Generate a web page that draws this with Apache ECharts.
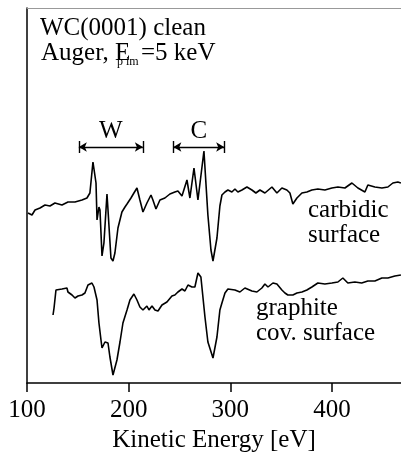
<!DOCTYPE html>
<html>
<head>
<meta charset="utf-8">
<script src="https://cdn.jsdelivr.net/npm/echarts@6/dist/echarts.min.js"></script>
<style>
  html, body { margin: 0; padding: 0; background: #fff; }
  #chart { width: 401px; height: 453px; }
</style>
</head>
<body>
<div id="chart"></div>
<script>
// kinetic energy (eV) and dN/dE (arb. units)
var carbidicE = [101.0, 104.9, 107.9, 112.8, 117.7, 122.6, 127.5, 134.4, 140.3, 147.2, 154.1, 159.0, 160.0, 161.9, 164.9, 167.9, 168.9, 170.8, 171.8, 173.8, 175.7, 178.7, 179.7, 182.6, 184.6, 186.5, 189.5, 193.4, 196.4, 198.4, 202.3, 205.2, 208.2, 211.1, 214.1, 218.0, 222.0, 223.9, 226.9, 230.8, 235.7, 240.6, 245.5, 248.5, 252.5, 257.4, 260.3, 264.3, 268.2, 274.1, 278.0, 281.0, 283.0, 286.9, 289.8, 291.8, 294.8, 297.7, 301.6, 304.6, 307.5, 311.5, 316.4, 321.3, 325.2, 329.2, 334.1, 341.0, 345.9, 350.8, 355.7, 358.7, 361.6, 365.6, 370.5, 375.4, 380.3, 386.2, 393.1, 400.0, 405.9, 412.8, 419.7, 425.6, 432.5, 435.4, 442.3, 449.2, 455.1, 460.0, 464.9, 467.9]
var carbidicY = [170, 168, 173, 175, 178, 177, 180, 178, 181, 181, 183, 185, 183, 190, 221, 200, 163, 176, 173, 127, 140, 189, 173, 125, 122, 130, 155, 171, 176, 179, 185, 190, 195, 183, 171, 180, 188, 183, 174, 183, 185, 189, 191, 192, 187, 203, 185, 215, 183, 232, 168, 133, 122, 145, 177, 188, 191, 193, 191, 194, 191, 193, 196, 193, 190, 193, 190, 196, 190, 195, 193, 190, 179, 185, 190, 191, 193, 194, 193, 195, 196, 195, 200, 195, 191, 198, 196, 195, 196, 200, 201, 200]

var graphiteE = [125.6, 126.6, 128.5, 129.5, 134.4, 139.3, 140.3, 144.3, 147.2, 150.2, 154.1, 157.0, 160.0, 163.9, 165.9, 168.9, 170.8, 172.8, 173.8, 176.7, 179.7, 181.6, 184.6, 188.5, 191.5, 194.4, 198.4, 201.3, 205.2, 208.2, 211.1, 214.1, 218.0, 220.0, 223.0, 225.9, 228.9, 232.8, 237.7, 242.6, 245.5, 248.5, 252.5, 255.4, 258.4, 262.3, 265.2, 268.2, 271.1, 275.1, 278.0, 283.0, 286.9, 289.8, 291.8, 294.8, 297.7, 304.6, 309.5, 314.4, 321.3, 326.2, 331.1, 334.1, 337.1, 342.0, 345.9, 350.8, 353.8, 356.7, 361.6, 365.6, 370.5, 375.4, 380.3, 386.2, 393.1, 400.0, 405.9, 410.8, 415.7, 422.6, 429.3, 435.4, 442.3, 449.2, 455.1, 462.0, 467.9]
var graphiteY = [68, 75, 93, 95, 94, 95, 91, 88, 85, 87, 88, 90, 98, 100, 96, 83, 60, 43, 35, 41, 40, 26, 8, 23, 41, 60, 73, 83, 89, 83, 76, 73, 77, 73, 77, 73, 72, 78, 81, 87, 88, 91, 94, 92, 98, 96, 96, 110, 106, 66, 41, 25, 46, 73, 80, 90, 94, 93, 91, 95, 92, 91, 95, 99, 96, 100, 99, 93, 90, 88, 88, 90, 91, 93, 96, 100, 99, 100, 101, 105, 100, 101, 100, 102, 102, 105, 105, 107, 108]

var xTicks = [100, 200, 300, 400]

// energy ranges of the W and C transitions
var wRange = [151, 214]
var cRange = [244, 294]
var bracketY = 236
var capHalf = 6

var serif = 'Liberation Serif'

function pairs(xs, ys) {
  return xs.map(function (x, i) { return [x, ys[i]] })
}

function bracket(range, name) {
  return [
    [{ coord: [range[0], bracketY], symbol: 'arrow', name: name,
       label: { show: true, formatter: name, position: 'insideMiddleTop', distance: 3,
                color: '#000', fontFamily: serif, fontSize: 25 } },
     { coord: [range[1], bracketY], symbol: 'arrow' }],
    [{ coord: [range[0], bracketY - capHalf], symbol: 'none', label: { show: false } },
     { coord: [range[0], bracketY + capHalf], symbol: 'none' }],
    [{ coord: [range[1], bracketY - capHalf], symbol: 'none', label: { show: false } },
     { coord: [range[1], bracketY + capHalf], symbol: 'none' }],
  ]
}

var chart = echarts.init(document.getElementById('chart'))

var option = {
  animation: false,
  backgroundColor: '#fff',
  grid: { left: 27, right: 0, top: 8, bottom: 70, outerBoundsMode: 'none' },
  xAxis: [
    {
      type: 'value',
      min: 100,
      max: 468,
      interval: 100,
      name: 'Kinetic Energy [eV]',
      nameLocation: 'middle',
      nameGap: 45,
      nameTextStyle: { color: '#000', fontFamily: serif, fontSize: 25 },
      axisLine: { lineStyle: { color: '#000', width: 1.5 } },
      axisTick: { inside: false, length: 9, customValues: xTicks, lineStyle: { color: '#000', width: 1.5 } },
      axisLabel: { customValues: xTicks, margin: 15, color: '#000', fontFamily: serif, fontSize: 25 },
      splitLine: { show: false },
    },
    {
      type: 'value',
      position: 'top',
      min: 100,
      max: 468,
      axisLine: { lineStyle: { color: '#999', width: 1 } },
      axisTick: { show: false },
      axisLabel: { show: false },
      splitLine: { show: false },
    },
  ],
  yAxis: {
    type: 'value',
    min: 0,
    max: 375,
    axisLine: { show: true, lineStyle: { color: '#000', width: 1.5 } },
    axisTick: { show: false },
    axisLabel: { show: false },
    splitLine: { show: false },
  },
  series: [
    {
      name: 'carbidic surface',
      type: 'line',
      showSymbol: false,
      lineStyle: { color: '#000', width: 1.6 },
      data: pairs(carbidicE, carbidicY),
      markLine: {
        silent: true,
        symbolSize: [7, 8],
        lineStyle: { color: '#000', width: 1.4, type: 'solid' },
        label: { show: false },
        data: bracket(wRange, 'W').concat(bracket(cRange, 'C')),
      },
    },
    {
      name: 'graphite cov. surface',
      type: 'line',
      showSymbol: false,
      lineStyle: { color: '#000', width: 1.6 },
      data: pairs(graphiteE, graphiteY),
    },
  ],
  graphic: [
    { type: 'text', left: 40, top: 16, style: { text: 'WC(0001) clean', font: '25px "Liberation Serif"', fill: '#000' } },
    { type: 'text', left: 41, top: 41, style: { text: 'Auger, E', font: '25px "Liberation Serif"', fill: '#000' } },
    { type: 'text', left: 117, top: 56, style: { text: 'p im', font: '12px "Liberation Serif"', fill: '#000' } },
    { type: 'text', left: 141, top: 41, style: { text: '=5 keV', font: '25px "Liberation Serif"', fill: '#000' } },
    { type: 'text', left: 308, top: 198, style: { text: 'carbidic\nsurface', font: '25px "Liberation Serif"', lineHeight: 25, fill: '#000' } },
    { type: 'text', left: 256, top: 296, style: { text: 'graphite\ncov. surface', font: '25px "Liberation Serif"', lineHeight: 25, fill: '#000' } },
  ],
}

chart.setOption(option)
</script>
</body>
</html>
